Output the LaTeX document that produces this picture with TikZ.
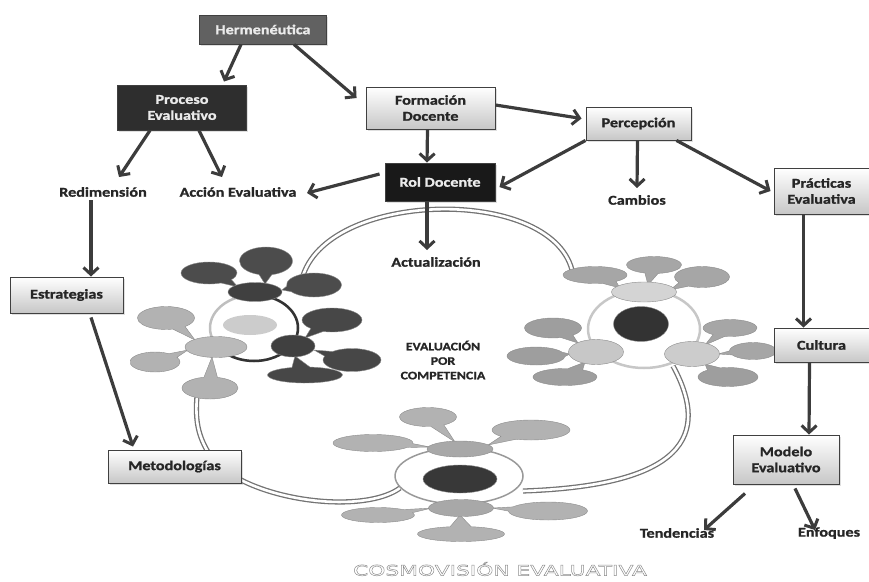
\documentclass[tikz,border=0pt]{standalone}
\usepackage{fontspec}
\setmainfont{Carlito}[FakeStretch=1.2, BoldFeatures={FakeBold=1.2}]
\newfontfamily\capfont{DejaVu Sans}[FakeStretch=1.5]
\usetikzlibrary{arrows.meta,shapes.geometric,shapes.callouts,shadows}
\definecolor{arrowc}{HTML}{3c3c3c}
\newcommand\bub[8]{\node[bubble, fill=#8, minimum width=#4pt, minimum height=#5pt, callout absolute pointer={(#6,#7)}] (#1) at (#2,#3) {};}
\begin{document}
\begin{tikzpicture}[x=1pt,y=-1pt,
  font=\bfseries\fontsize{13.5}{16}\selectfont,
  box/.style={draw=black!75, line width=0.9pt, inner sep=0pt, align=center, text=black!85,
    drop shadow={opacity=0.25, shadow xshift=1.5pt, shadow yshift=-1.5pt}},
  lbox/.style={box, top color=white, bottom color=black!22},
  dbox/.style={box, fill=#1, text=white!92!black},
  lab/.style={inner sep=0pt, text=black!85},
  arr/.style={draw=arrowc, line width=3.2pt, -{Straight Barb[length=7pt,width=15pt,line width=3pt]}},
  tube/.style={draw=black!55, double=white, double distance=2.6pt, line width=1.3pt},
  bubble/.style={ellipse callout, draw=black!45, line width=0.4pt, inner sep=0pt, callout pointer arc=28},
  hub/.style={ellipse, draw=black!45, line width=0.4pt, inner sep=0pt},
  ringl/.style={draw=#1, line width=2.5pt}
]
\useasboundingbox (0,0) rectangle (869,581);

% ---------- tubes ----------
\draw[tube] (302,279) .. controls (325,190) and (550,185) .. (572,270);
\draw[tube] (673,366) .. controls (705,425) and (700,485) .. (523,491);
\draw[tube] (241,480) .. controls (290,505) and (370,510) .. (400,488);
\draw[tube] (208,452) .. controls (198,435) and (195,420) .. (197,396);

% ---------- left cluster ----------
\draw[ringl=black!25] (254,328) ellipse [x radius=44pt, y radius=33pt];
\draw[ringl=black!80] (254,328) ++(90:44pt and 33pt) arc[start angle=90, end angle=-150, x radius=44pt, y radius=33pt];
\node[ellipse, fill=black!20, inner sep=0pt, minimum width=54pt, minimum height=20pt] (lC) at (250,325) {};
\bub{lt1}{209}{273}{56}{22}{238}{287}{black!70}
\bub{lt2}{266}{261}{53}{28}{265}{284}{black!70}
\bub{lt3}{314}{285}{55}{24}{282}{290}{black!70}
\bub{la1}{332}{320}{60}{24}{305}{338}{black!72}
\bub{la2}{352}{360}{58}{23}{314}{350}{black!72}
\bub{la3}{305}{375}{75}{16}{295}{356}{black!72}
\bub{lf1}{166}{318}{57}{23}{195}{340}{black!30}
\bub{lf2}{155}{362}{50}{20}{188}{350}{black!30}
\bub{lf3}{210}{388}{56}{22}{212}{357}{black!30}
\node[hub, fill=black!75, minimum width=54pt, minimum height=19pt] (lT) at (255,292) {};
\node[hub, fill=black!75, minimum width=44pt, minimum height=22pt] (lA) at (293,346) {};
\node[hub, fill=black!27, minimum width=62pt, minimum height=21pt] (lF) at (216,347) {};

% ---------- right cluster ----------
\draw[ringl=black!22] (644,329) ellipse [x radius=56pt, y radius=39pt];
\bub{rt1}{595}{275}{64}{17}{620}{288}{black!35}
\bub{rt2}{654}{265}{55}{17}{648}{285}{black!35}
\bub{rt3}{702}{277}{55}{21}{670}{290}{black!35}
\bub{rl1}{553}{328}{57}{20}{578}{343}{black!38}
\bub{rl2}{536}{356}{58}{18}{570}{354}{black!38}
\bub{rl3}{565}{377}{64}{17}{585}{362}{black!38}
\bub{rr1}{730}{328}{54}{17}{705}{345}{black!35}
\bub{rr2}{753}{351}{47}{17}{718}{354}{black!35}
\bub{rr3}{728}{377}{60}{19}{705}{364}{black!38}
\node[hub, fill=black!80, minimum width=55pt, minimum height=35pt] (rC) at (641,324) {};
\node[hub, fill=black!17, minimum width=65pt, minimum height=20pt] (rT) at (644,292) {};
\node[hub, fill=black!22, minimum width=55pt, minimum height=25pt] (rL) at (596,352) {};
\node[hub, fill=black!20, minimum width=55pt, minimum height=25pt] (rR) at (692,354) {};

% ---------- bottom cluster ----------
\node[ellipse, draw=black!40, line width=1.5pt, fill=white, inner sep=0pt, minimum width=128pt, minimum height=56pt] (bRing) at (459,476) {};
\bub{bt1}{428}{417}{57}{19}{455}{442}{black!30}
\bub{bt2}{373}{443}{80}{17}{430}{447}{black!30}
\bub{bt3}{531}{430}{78}{20}{488}{445}{black!30}
\bub{bb1}{378}{515}{73}{15}{432}{508}{black!30}
\bub{bb2}{461}{534}{87}{15}{460}{515}{black!30}
\bub{bb3}{548}{511}{79}{18}{492}{508}{black!30}
\node[hub, fill=black!78, minimum width=74pt, minimum height=28pt] (bC) at (460,479) {};
\node[hub, fill=black!34, minimum width=66pt, minimum height=16pt] (bT) at (460,449) {};
\node[hub, fill=black!34, minimum width=65pt, minimum height=17pt] (bB) at (461,508) {};

% ---------- boxes ----------
\node[dbox=black!62, minimum width=127pt, minimum height=29pt] (herm) at (263,29.5) {Hermenéutica};
\node[dbox=black!82, minimum width=129pt, minimum height=45pt] (proc) at (182,107.5) {Proceso\\Evaluativo};
\node[lbox, minimum width=129pt, minimum height=42pt] (form) at (430.5,108) {Formación\\Docente};
\node[lbox, minimum width=105pt, minimum height=33pt] (perc) at (638.5,123.5) {Percepción};
\node[dbox=black!90, minimum width=110pt, minimum height=38pt] (rol) at (440,182) {Rol Docente};
\node[lbox, minimum width=95pt, minimum height=46pt] (prac) at (821.5,191) {Prácticas\\Evaluativa};
\node[lbox, minimum width=113pt, minimum height=36pt] (estr) at (66.5,295) {Estrategias};
\node[lbox, minimum width=95pt, minimum height=34pt] (cult) at (821.5,345) {Cultura};
\node[lbox, minimum width=133pt, minimum height=33pt] (met) at (174.5,466.5) {Metodologías};
\node[lbox, minimum width=106pt, minimum height=49pt] (mod) at (786,459.5) {Modelo\\Evaluativo};

% ---------- labels ----------
\node[lab] (redim) at (103,192) {Redimensión};
\node[lab] (acc) at (238,192) {Acción Evaluativa};
\node[lab] (camb) at (637,200) {Cambios};
\node[lab] (act) at (436,262) {Actualización};
\node[lab] (tend) at (677,533) {Tendencias};
\node[lab] (enf) at (829,533) {Enfoques};
\node[lab, font=\bfseries\fontsize{11.5}{14.5}\selectfont, align=center] (eval) at (443,360) {EVALUACIÓN\\POR\\COMPETENCIA};

% ---------- arrows ----------
\draw[arr] ([xshift=-22pt]herm.south) -- ([xshift=42pt,yshift=3pt]proc.north);
\draw[arr] ([xshift=31pt]herm.south) -- ([xshift=-9pt,yshift=10pt]form.west);
\draw[arr] ([xshift=-32pt]proc.south) -- ([xshift=16pt,yshift=15pt]redim.center);
\draw[arr] ([xshift=17pt]proc.south) -- ([xshift=-16pt,yshift=15pt]acc.center);
\draw[arr] ([yshift=3pt]form.east) -- ([xshift=-4pt,yshift=5pt]perc.west);
\draw[arr] ([xshift=-3pt]form.south) -- ([xshift=-13pt]rol.north);
\draw[arr] ([xshift=-5pt,yshift=8pt]rol.west) -- ([xshift=69pt,yshift=-1pt]acc.center);
\draw[arr] (perc.south west) -- ([xshift=4pt,yshift=-5pt]rol.east);
\draw[arr] ([xshift=-1pt]perc.south) -- ([yshift=12pt]camb.center);
\draw[arr] ([xshift=-15pt]perc.south east) -- ([xshift=-3pt]prac.west);
\draw[arr] ([xshift=-13pt]rol.south) -- ([xshift=-9pt,yshift=12pt]act.center);
\draw[arr] ([xshift=-12pt,yshift=-8pt]redim.center) -- ([xshift=24.5pt]estr.north);
\draw[arr] ([xshift=-18pt]prac.south) -- ([xshift=-18pt]cult.north);
\draw[arr] ([xshift=24.5pt,yshift=-4pt]estr.south) -- ([xshift=-41.5pt,yshift=3pt]met.north);
\draw[arr] ([xshift=-12pt]cult.south) -- ([xshift=23pt]mod.north);
\draw[arr] ([xshift=-41pt,yshift=-9pt]mod.south) -- ([xshift=27pt,yshift=3pt]tend.center);
\draw[arr] ([xshift=9pt,yshift=-4pt]mod.south) -- ([xshift=-14pt,yshift=3pt]enf.center);

% ---------- caption ----------
\node[inner sep=0pt] (cap) at (500,569) {\capfont\mdseries\fontsize{14.5}{16}\selectfont\color{black!45}\special{pdf:literal direct 1 Tr 0.5 w}COSMOVISIÓN EVALUATIVA\special{pdf:literal direct 0 Tr}};
\end{tikzpicture}
\end{document}
